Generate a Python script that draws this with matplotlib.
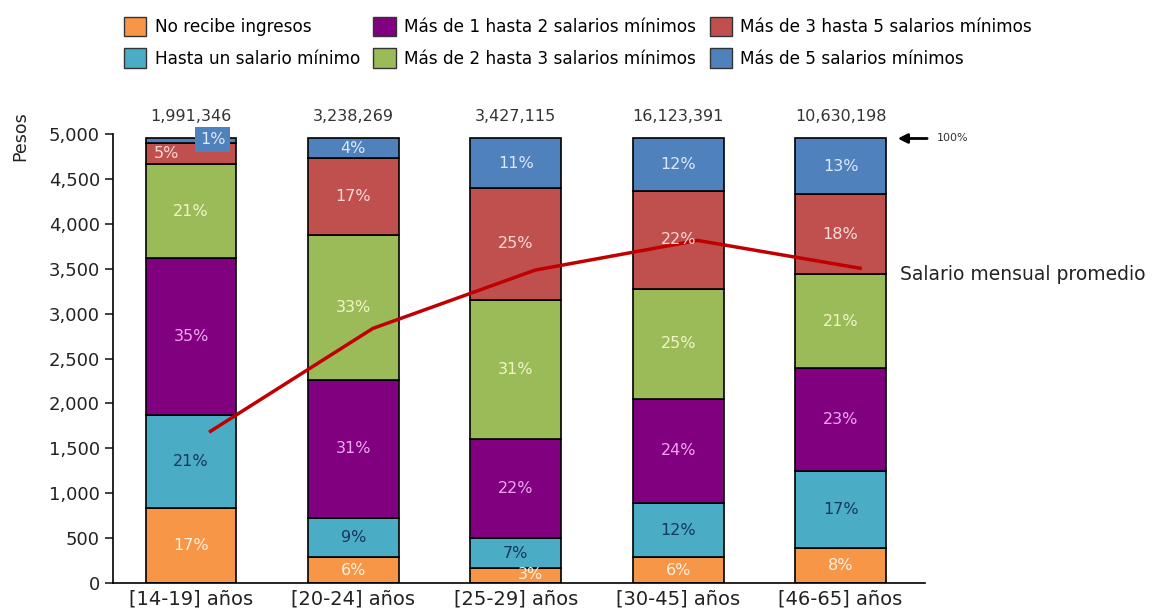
import numpy as np
import matplotlib.pyplot as plt
from matplotlib.patches import Patch

# datos
categorias = ['[14-19] años', '[20-24] años', '[25-29] años', '[30-45] años', '[46-65] años']
ocupados = [1991346, 3238269, 3427115, 16123391, 10630198]

series = ['No recibe ingresos', 'Hasta un salario mínimo', 'Más de 1 hasta 2 salarios mínimos',
          'Más de 2 hasta 3 salarios mínimos', 'Más de 3 hasta 5 salarios mínimos', 'Más de 5 salarios mínimos']

# porcentaje de cada tramo (alto de cada segmento)
no_recibe = [16.9, 5.8, 3.3, 5.8, 7.9]
hasta_1 = [20.8, 8.9, 6.8, 12.1, 17.3]
de_1_a_2 = [35.4, 31.0, 22.4, 23.6, 23.1]
de_2_a_3 = [21.1, 32.7, 31.2, 24.6, 21.2]
de_3_a_5 = [4.8, 17.1, 25.2, 22.2, 18.0]
mas_de_5 = [1.0, 4.5, 11.1, 11.7, 12.5]

# etiquetas que aparecen en las barras
no_recibe_lbl = [17, 6, 3, 6, 8]
hasta_1_lbl = [21, 9, 7, 12, 17]
de_1_a_2_lbl = [35, 31, 22, 24, 23]
de_2_a_3_lbl = [21, 33, 31, 25, 21]
de_3_a_5_lbl = [5, 17, 25, 22, 18]
mas_de_5_lbl = [1, 4, 11, 12, 13]

salario_promedio = [1690, 2835, 3485, 3815, 3505]
escala_100 = 4950  # pesos que equivalen al 100%

colores = ['#F79646', '#4BACC6', '#800080', '#9BBB59', '#C0504D', '#4F81BD']
color_texto = ['#FFF0E0', '#17375E', '#F2A6F2', '#F0F5C8', '#FAD9D9', '#DDE8FA']

tramos = [no_recibe, hasta_1, de_1_a_2, de_2_a_3, de_3_a_5, mas_de_5]
etiquetas = [no_recibe_lbl, hasta_1_lbl, de_1_a_2_lbl, de_2_a_3_lbl, de_3_a_5_lbl, mas_de_5_lbl]

fig = plt.figure(figsize=(11.56, 6.13), dpi=100)
ax = fig.add_axes([0.0978, 0.0489, 0.7024, 0.7325])

x = np.arange(len(categorias))
base = np.zeros(len(categorias))
for k in range(len(tramos)):
    alto = np.array(tramos[k]) / 100 * escala_100
    ax.bar(x, alto, bottom=base, width=0.56, color=colores[k], edgecolor='black', linewidth=1.2, zorder=2)
    for i in range(len(x)):
        tx, ty = x[i], base[i] + alto[i] / 2
        kw = {}
        if k == 0 and i == 2:
            tx, ty = x[i] + 0.09, 95
        if k == 4 and i == 0:
            tx = x[i] - 0.15
        if k == 5 and i == 0:
            tx, ty = x[i] + 0.135, 4940
            kw = dict(bbox=dict(facecolor=colores[5], edgecolor='none', pad=3.5))
        ax.text(tx, ty, f'{etiquetas[k][i]}%', ha='center', va='center', fontsize=11.5,
                color=color_texto[k], zorder=4, **kw)
    base += alto

# linea del salario promedio
ax.plot(x + 0.12, salario_promedio, color='#C00000', linewidth=2.5, zorder=3)

for i in range(len(x)):
    ax.text(x[i], 5190, f'{ocupados[i]:,}', ha='center', va='center', fontsize=11.5, color='#333333', clip_on=False)

ax.set_xlim(-0.48, 4.52)
ax.set_ylim(0, 5000)
ax.set_yticks(np.arange(0, 5001, 500))
ax.set_yticklabels([f'{v:,}' for v in range(0, 5001, 500)])
ax.set_xticks(x)
ax.set_xticklabels(categorias)
ax.tick_params(axis='y', length=6, width=1.2, labelsize=13, colors='#222222')
ax.tick_params(axis='x', length=0, labelsize=14, pad=5, colors='#222222')
ax.spines['top'].set_visible(False)
ax.spines['right'].set_visible(False)
ax.spines['left'].set_linewidth(1.2)
ax.spines['bottom'].set_linewidth(1.2)

ax.annotate('', xy=(4.335, escala_100), xytext=(4.55, escala_100),
            arrowprops=dict(arrowstyle='-|>', color='black', lw=2, mutation_scale=14), annotation_clip=False)
ax.text(4.595, escala_100, '100%', fontsize=8, va='center', color='#333333', clip_on=False)
ax.text(4.366, 3440, 'Salario mensual promedio', fontsize=13.5, va='center', color='#222222', clip_on=False)

fig.text(20 / 1156, 1 - 136 / 613, 'Pesos', rotation=90, ha='center', va='center', fontsize=12.5, color='#222222')

handles = [Patch(facecolor=c, edgecolor='#333333') for c in colores]
fig.legend(handles, series, ncol=3, loc='upper center', bbox_to_anchor=(0.5, 0.995), frameon=False,
           fontsize=12.2, handlelength=1.3, handleheight=1.35, columnspacing=0.8, handletextpad=0.5,
           labelspacing=0.75, borderpad=0.3)

fig.savefig('out.png', dpi=100)
